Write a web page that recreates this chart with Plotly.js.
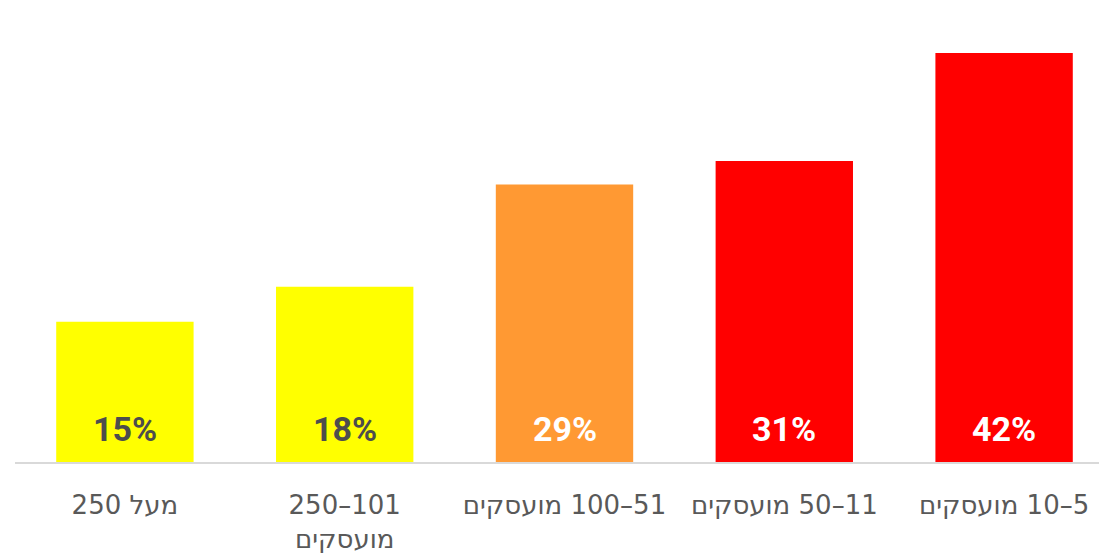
<!DOCTYPE html>
<html>
<head>
<meta charset="utf-8">
<script src="https://cdn.plot.ly/plotly-3.0.1.min.js"></script>
<style>
html, body { margin: 0; padding: 0; overflow: hidden; background: #fff; }
#chart { width: 1114px; height: 558px; }
</style>
</head>
<body>
<div id="chart"></div>
<script>
// Data (Hebrew labels, right-to-left reading; RLM sets the RTL context)
var RLM = "\u200F";
var categories = [
  RLM + "מעל 250",
  RLM + "101\u2013250<br>" + RLM + "מועסקים",
  RLM + "51\u2013100 מועסקים",
  RLM + "11\u201350 מועסקים",
  RLM + "5\u201310 מועסקים"
];
var values = [14.4, 18.0, 28.5, 30.9, 42.0];
var valueLabels = ["15%", "18%", "29%", "31%", "42%"];
var barColors = ["#FFFF00", "#FFFF00", "#FF9933", "#FF0000", "#FF0000"];
var labelColors = ["#4D4D4D", "#4D4D4D", "#FFFFFF", "#FFFFFF", "#FFFFFF"];

var tickFont = "'DejaVu Sans', 'Liberation Sans', sans-serif";
var valueFont = "Roboto, 'DejaVu Sans', sans-serif";

var trace = {
  type: "bar",
  x: categories,
  y: values,
  marker: { color: barColors, line: { width: 0 } },
  hoverinfo: "skip",
  cliponaxis: false
};

var annotations = categories.map(function (c, i) {
  return {
    x: c, y: 0, xref: "x", yref: "y",
    text: "<b>" + valueLabels[i] + "</b>",
    showarrow: false,
    yanchor: "bottom",
    yshift: 11,
    font: { family: valueFont, size: 34, color: labelColors[i] }
  };
});

var layout = {
  width: 1114,
  height: 558,
  margin: { l: 15, r: 0, t: 10, b: 96 },
  paper_bgcolor: "#FFFFFF",
  plot_bgcolor: "#FFFFFF",
  bargap: 0.375,
  showlegend: false,
  xaxis: {
    type: "category",
    showline: true,
    linecolor: "#D9D9D9",
    linewidth: 2,
    ticks: "",
    showgrid: false,
    zeroline: false,
    tickfont: { family: tickFont, size: 26, color: "#595959" },
    ticklabelstandoff: 19,
    fixedrange: true
  },
  yaxis: {
    range: [0, 46.42],
    showgrid: false,
    zeroline: false,
    showline: false,
    showticklabels: false,
    ticks: "",
    fixedrange: true
  },
  annotations: annotations,
  font: { family: tickFont }
};

Plotly.newPlot("chart", [trace], layout, { displayModeBar: false, staticPlot: true });
</script>
</body>
</html>
